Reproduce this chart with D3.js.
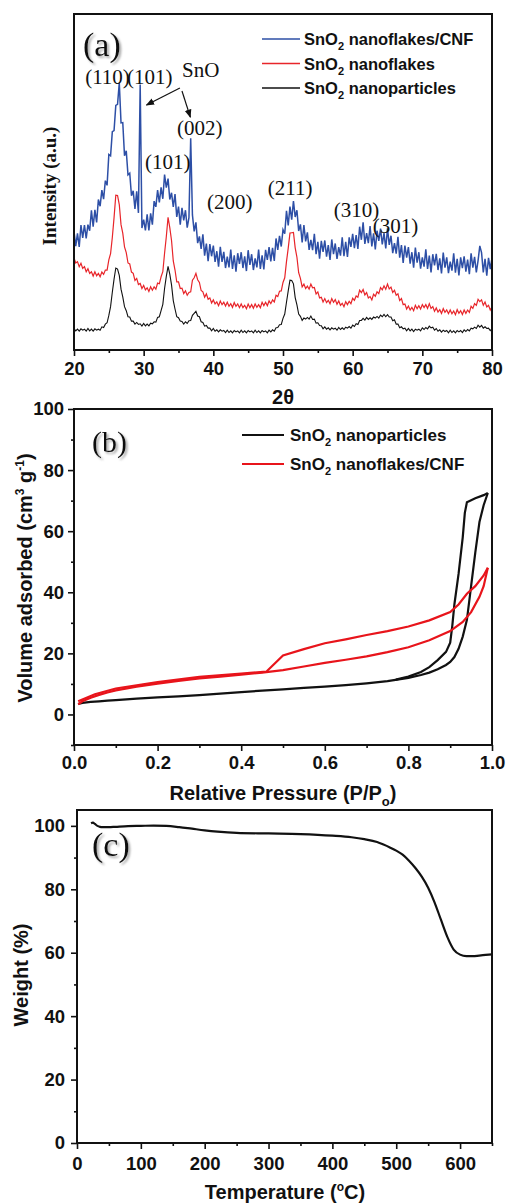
<!DOCTYPE html>
<html>
<head>
<meta charset="utf-8">
<script src="https://cdn.jsdelivr.net/npm/d3@7"></script>
<style>
  body { margin: 0; background: #fff; }
  text { font-family: "Liberation Sans", Arial, sans-serif; fill: #111; }
  .tick line { stroke: #111; stroke-width: 1.6; }
  .serif { font-family: "Liberation Serif", "Times New Roman", serif; }
</style>
</head>
<body>
<div id="chart"></div>
<script>
// ---------- (a) XRD, sampled every 0.25 deg from 20 to 80 ----------
var twoTheta = d3.range(241).map(i => 20 + i * 0.25);

var xrdCNF = [
  35.3,30.9,34.7,30.7,37.2,33.4,37.2,33.2,37.3,35.5,41.6,36.7,41.7,38.0,44.8,42.8,
  47.6,44.9,50.4,49.0,58.2,57.8,65.0,65.3,72.8,73.1,79.5,67.6,67.7,57.8,59.3,52.1,
  52.6,45.9,47.4,42.0,47.2,40.8,79.0,36.3,38.8,35.6,40.4,35.6,40.7,37.3,44.3,42.6,
  47.6,43.9,48.4,45.0,52.2,48.3,51.0,44.8,46.8,42.6,46.4,39.6,42.7,37.3,42.3,38.6,
  41.6,36.4,39.4,63.0,40.2,35.3,38.0,31.8,33.8,30.1,34.4,28.1,31.7,26.4,31.5,27.9,
  31.1,26.2,29.4,24.8,30.7,26.2,29.2,24.4,27.8,24.6,29.9,24.1,28.2,23.3,28.8,25.6,
  29.1,24.4,27.9,23.5,29.7,25.3,28.5,23.8,27.3,24.6,29.9,24.1,28.2,24.0,29.8,26.8,
  30.6,26.4,30.4,26.5,33.2,29.8,34.0,30.8,35.8,34.6,41.4,37.1,42.7,38.8,44.3,39.6,
  41.6,35.4,37.4,32.0,37.2,32.3,35.0,29.8,32.8,29.7,34.6,28.5,32.2,27.2,32.5,29.2,
  32.6,27.8,31.2,26.8,32.9,28.5,31.7,27.1,30.6,28.1,33.5,27.9,32.2,27.7,33.5,30.7,
  34.6,30.3,34.2,30.1,36.7,32.8,38.0,31.6,34.8,31.8,36.9,30.8,34.7,29.9,35.5,32.5,
  36.1,31.4,34.8,30.2,36.2,31.3,34.0,28.8,31.8,28.7,33.7,27.5,31.2,25.9,31.1,27.5,
  30.6,25.7,29.1,24.5,30.5,26.0,29.1,24.2,27.6,24.8,30.0,24.1,28.1,23.1,28.5,25.2,
  28.6,23.8,27.3,22.8,29.0,24.5,27.6,22.9,26.3,23.6,28.8,23.0,27.1,22.2,27.6,24.4,
  27.9,23.3,26.9,22.6,28.8,24.5,27.7,23.1,26.6,31.0,29.0,23.1,27.1,22.1,27.4,24.1,
  27.4
];

var xrdFlakes = [
  27.4,25.9,26.3,24.8,25.8,24.3,24.8,23.3,24.2,22.8,23.3,22.0,23.3,22.1,22.8,21.8,
  23.2,22.5,23.8,23.8,26.8,28.7,33.5,39.4,46.1,46.0,43.3,37.3,34.8,30.7,29.0,25.9,
  25.6,23.2,22.8,20.7,21.3,19.5,19.8,18.3,19.2,17.9,18.5,17.4,18.8,17.8,18.8,18.1,
  19.9,19.7,21.8,23.3,28.8,33.7,39.5,36.4,32.6,26.5,23.8,20.3,20.3,18.3,18.4,16.8,
  17.6,16.3,17.1,17.3,20.8,21.5,22.8,20.9,20.1,17.7,17.3,15.7,16.7,15.1,15.5,14.0,
  14.9,13.7,14.3,13.2,14.6,13.5,14.2,13.1,14.2,13.0,13.8,12.7,14.1,13.0,13.7,12.6,
  13.7,12.6,13.3,12.3,13.7,12.6,13.5,12.4,13.7,12.7,13.5,12.6,14.2,13.2,14.2,13.2,
  14.6,13.8,14.9,14.3,16.3,15.9,17.5,17.6,20.1,21.5,26.3,30.3,34.8,34.9,35.0,30.4,
  27.6,23.0,21.3,18.8,19.6,18.3,19.0,18.1,19.6,18.5,18.6,16.7,17.3,15.5,15.7,14.3,
  15.3,14.1,14.8,13.8,15.3,14.2,15.0,13.6,14.6,13.3,13.9,12.9,14.4,13.5,14.5,13.8,
  15.4,14.8,16.1,15.7,17.8,17.1,18.0,16.4,17.1,15.5,15.9,14.9,16.6,16.0,17.3,16.8,
  18.6,17.9,19.1,18.1,19.6,18.2,18.7,17.1,17.8,16.3,16.7,14.7,15.3,13.5,13.7,12.2,
  13.1,11.9,12.7,11.7,13.3,12.3,13.2,12.2,13.5,12.6,13.5,12.4,13.8,12.4,12.9,11.5,
  12.5,11.3,12.0,10.9,12.3,11.2,11.9,10.8,11.9,10.8,11.6,10.5,12.0,10.9,11.7,10.6,
  11.9,10.9,11.9,11.2,13.0,12.4,13.8,13.3,15.1,14.4,14.9,13.3,14.3,12.8,13.3,11.9,
  12.9
];

var xrdParticles = [
  6.4,5.7,6.2,5.6,6.3,5.9,6.2,5.6,6.4,5.7,6.2,5.6,6.3,5.9,6.2,5.9,
  6.9,6.7,7.7,8.1,10.3,12.9,17.2,21.1,24.4,24.1,22.2,18.1,15.8,12.9,11.7,9.9,
  9.8,8.6,8.6,7.7,8.2,7.6,7.8,7.1,7.9,7.2,7.7,7.2,8.0,7.8,8.4,8.3,
  9.7,9.9,11.7,13.6,18.3,21.9,24.9,22.6,19.4,14.7,12.2,9.9,9.6,8.6,8.5,7.7,
  8.4,7.9,8.7,8.8,10.3,10.9,11.5,10.1,9.9,8.4,8.2,7.1,7.3,6.5,6.5,5.7,
  6.4,5.6,6.0,5.4,6.0,5.6,5.8,5.2,5.9,5.2,5.7,5.1,5.8,5.4,5.7,5.1,
  5.9,5.2,5.7,5.1,5.8,5.4,5.7,5.1,5.9,5.2,5.7,5.1,5.8,5.4,5.7,5.1,
  5.9,5.4,6.0,5.6,6.6,6.7,7.5,7.6,9.4,10.7,14.2,17.6,20.8,20.7,19.7,15.6,
  13.4,10.7,10.0,8.8,9.5,9.2,9.7,9.2,10.1,9.1,9.2,8.0,8.1,7.3,7.2,6.3,
  6.9,6.2,6.6,6.0,6.6,6.2,6.5,5.9,6.7,6.1,6.6,6.1,6.8,6.5,7.0,6.5,
  7.4,7.0,7.8,7.6,8.8,8.8,9.4,8.9,9.7,9.1,9.6,9.1,9.8,9.5,10.0,9.5,
  10.4,9.9,10.6,9.9,10.5,9.8,9.8,8.7,9.0,7.7,7.7,6.6,6.9,6.3,6.5,5.7,
  6.4,5.7,6.2,5.5,6.2,5.9,6.2,5.7,6.6,6.1,6.7,6.3,7.1,6.6,6.8,5.9,
  6.4,5.6,6.0,5.3,5.9,5.5,5.8,5.1,5.9,5.2,5.7,5.1,5.8,5.4,5.8,5.2,
  6.0,5.5,6.1,5.7,6.5,6.3,6.8,6.4,7.4,6.8,7.3,6.5,6.9,6.4,6.5,5.8,
  6.4
];

var xrdMajor = [20, 30, 40, 50, 60, 70, 80];
var xrdMinor = [25, 35, 45, 55, 65, 75];

// peak labels, anchored in data units (2theta, intensity)
var peakLabels = [
  {text: "(110)", t: 21.6, i: 79.2},
  {text: "(101)", t: 27.6, i: 79.2},
  {text: "SnO",   t: 35.5, i: 81.3},
  {text: "(002)", t: 34.8, i: 64.0},
  {text: "(101)", t: 30.2, i: 53.9},
  {text: "(200)", t: 39.1, i: 42.0},
  {text: "(211)", t: 47.8, i: 46.1},
  {text: "(310)", t: 57.3, i: 39.6},
  {text: "(301)", t: 62.9, i: 34.8}
];
var snoArrows = [
  {t1: 35.2, i1: 78.0, t2: 30.4, i2: 72.9},
  {t1: 35.5, i1: 77.1, t2: 36.7, i2: 69.3}
];

// ---------- (b) N2 isotherms ----------
var npAdsP = [0.01,0.02,0.04,0.06,0.08,0.1,0.15,0.2,0.25,0.3,0.35,0.4,0.45,0.5,0.55,0.6,0.65,0.7,0.75,0.8,0.83,0.85,0.87,0.89,0.9,0.91,0.92,0.93,0.94,0.95,0.96,0.97,0.98,0.99];
var npAdsV = [3.4,3.8,4.1,4.3,4.5,4.7,5.2,5.6,5.9,6.3,6.8,7.3,7.8,8.2,8.7,9.1,9.6,10.2,10.9,12.0,12.9,13.7,14.8,16.2,17.2,18.8,21.5,25.5,31,42,53,63,68.5,72.5];
var npDesP = [0.99,0.98,0.96,0.94,0.935,0.93,0.92,0.91,0.905,0.9,0.89,0.87,0.85,0.83,0.8,0.77];
var npDesV = [72.5,71.8,70.8,69.5,66,58,46,36,29,23.5,20.5,17.8,15.5,13.9,12.4,11.4];

var cnfAdsP = [0.01,0.02,0.04,0.06,0.08,0.1,0.15,0.2,0.25,0.3,0.35,0.4,0.45,0.5,0.55,0.6,0.65,0.7,0.75,0.8,0.85,0.9,0.93,0.95,0.97,0.98,0.99];
var cnfAdsV = [3.3,4.3,5.5,6.4,7.2,7.9,9.1,10.1,11.0,11.8,12.4,13.0,13.7,14.5,15.7,16.9,17.9,19.0,20.4,22.0,24.3,27.3,30.3,33.5,38.5,42,48];
var cnfDesP = [0.99,0.98,0.96,0.94,0.92,0.9,0.85,0.8,0.75,0.7,0.65,0.6,0.55,0.5,0.46,0.4,0.3,0.2,0.1,0.05,0.02,0.01];
var cnfDesV = [48,45.5,42,39.5,36,33.5,30.8,28.8,27.3,26,24.6,23.3,21.4,19.3,14.0,13.4,12.3,10.6,8.5,6.6,4.9,4.3];

var betXMajor = [0, 0.2, 0.4, 0.6, 0.8, 1.0];
var betXMinor = [0.1, 0.3, 0.5, 0.7, 0.9];
var betYMajor = [0, 20, 40, 60, 80, 100];
var betYMinor = [-10, 10, 30, 50, 70, 90];

// ---------- (c) TGA ----------
var tgaT = [22,25,28,32,36,40,50,60,80,100,120,140,160,180,200,220,250,300,350,400,430,450,470,480,490,500,510,520,530,540,550,560,570,580,590,600,610,620,630,640,650];
var tgaW = [100.8,101.0,100.6,100.0,99.7,99.6,99.6,99.7,99.9,100.0,100.1,100.0,99.6,99.1,98.6,98.2,97.8,97.6,97.4,96.9,96.4,95.8,94.9,94.1,93.2,92.2,90.9,89.0,86.7,84.0,80.5,75.9,70.4,65.0,61.0,59.4,58.9,58.9,59.1,59.3,59.5];

var tgaXMajor = [0, 100, 200, 300, 400, 500, 600];
var tgaXMinor = [50, 150, 250, 350, 450, 550, 650];
var tgaYMajor = [0, 20, 40, 60, 80, 100];
var tgaYMinor = [10, 30, 50, 70, 90];

var svg = d3.select("#chart")
  .append("svg")
  .attr("width", 506)
  .attr("height", 1204);

svg.append("rect").attr("width", 506).attr("height", 1204).attr("fill", "#fff");

var defs = svg.append("defs");
defs.append("filter").attr("id", "shadow")
  .append("feDropShadow")
  .attr("dx", 2).attr("dy", 2).attr("stdDeviation", 1.2)
  .attr("flood-color", "#888").attr("flood-opacity", 0.7);
defs.append("marker")
  .attr("id", "arrow")
  .attr("viewBox", "0 0 10 10")
  .attr("refX", 9).attr("refY", 5)
  .attr("markerWidth", 7).attr("markerHeight", 7)
  .attr("orient", "auto")
  .append("path")
  .attr("d", "M0,1 L10,5 L0,9 Z")
  .attr("fill", "#111");

// bold tick labels, like the original figure
function styleTicks(s) {
  s.select(".domain").remove();
  s.selectAll("text")
    .attr("font-family", "'Liberation Sans', Arial, sans-serif")
    .style("font-size", "18.5px")
    .style("font-weight", "bold")
    .style("fill", "#111");
}

// draw minor + major ticks on a side, then a closed frame
function axes(g, x, y, w, h, o) {
  g.append("g").attr("transform", `translate(0,${h})`)
    .call(d3.axisBottom(x).tickValues(o.xMinor).tickSize(3).tickFormat(""))
    .call(styleTicks);
  g.append("g").attr("transform", `translate(0,${h})`)
    .call(d3.axisBottom(x).tickValues(o.xMajor).tickSize(6).tickPadding(o.xPad).tickFormat(o.xFmt))
    .call(styleTicks);
  if (o.yMajor) {
    g.append("g")
      .call(d3.axisLeft(y).tickValues(o.yMinor).tickSize(3).tickFormat(""))
      .call(styleTicks);
    g.append("g")
      .call(d3.axisLeft(y).tickValues(o.yMajor).tickSize(6).tickPadding(o.yPad).tickFormat(d3.format("d")))
      .call(styleTicks);
  }
  g.append("rect")
    .attr("width", w).attr("height", h)
    .attr("fill", "none").attr("stroke", "#111").attr("stroke-width", 2);
}

function legendRow(g, x, y, color, lw, size, sub, rest) {
  g.append("line")
    .attr("x1", x).attr("x2", x + 38 + (size > 16.5 ? 4 : 0))
    .attr("y1", y - 6).attr("y2", y - 6)
    .attr("stroke", color).attr("stroke-width", lw);
  var t = g.append("text")
    .attr("x", x + 42 + (size > 16.5 ? 6 : 0)).attr("y", y)
    .attr("font-size", size).attr("font-weight", "bold");
  t.append("tspan").text("SnO");
  t.append("tspan").attr("font-size", 11).attr("dy", 5).text(sub);
  t.append("tspan").attr("dy", -5).text(rest);
}

// ===== panel (a) =====
var wA = 418, hA = 336;
var gA = svg.append("g").attr("transform", "translate(74,14)");
var xA = d3.scaleLinear().domain([20, 80]).range([0, wA]);
var yA = d3.scaleLinear().domain([0, 100]).range([hA, 0]);

var lineA = (vals) => d3.line().x((d, i) => xA(twoTheta[i])).y(d => yA(d))(vals);

gA.append("path").attr("d", lineA(xrdParticles)).attr("fill", "none").attr("stroke", "#111").attr("stroke-width", 1.1);
gA.append("path").attr("d", lineA(xrdFlakes)).attr("fill", "none").attr("stroke", "#e8252a").attr("stroke-width", 1.2);
gA.append("path").attr("d", lineA(xrdCNF)).attr("fill", "none").attr("stroke", "#2d4fa6").attr("stroke-width", 1.5);

axes(gA, xA, yA, wA, hA, {xMajor: xrdMajor, xMinor: xrdMinor, xPad: 6, xFmt: d3.format("d")});

peakLabels.forEach(function(p) {
  gA.append("text").attr("class", "serif")
    .attr("x", xA(p.t)).attr("y", yA(p.i))
    .attr("font-size", 21)
    .text(p.text);
});
snoArrows.forEach(function(a) {
  gA.append("line")
    .attr("x1", xA(a.t1)).attr("y1", yA(a.i1))
    .attr("x2", xA(a.t2)).attr("y2", yA(a.i2))
    .attr("stroke", "#111").attr("stroke-width", 1.2)
    .attr("marker-end", "url(#arrow)");
});

gA.append("text").attr("class", "serif")
  .attr("x", 9).attr("y", 42)
  .attr("font-size", 34).attr("filter", "url(#shadow)")
  .text("(a)");

legendRow(svg, 262, 45, "#2d4fa6", 1.5, 16.5, "2", " nanoflakes/CNF");
legendRow(svg, 262, 69.5, "#e8252a", 1.5, 16.5, "2", " nanoflakes");
legendRow(svg, 262, 94, "#111", 1.5, 16.5, "2", " nanoparticles");

svg.append("text").attr("class", "serif")
  .attr("transform", "translate(56,186) rotate(-90)")
  .attr("text-anchor", "middle")
  .attr("font-size", 19).attr("font-weight", "bold")
  .text("Intensity (a.u.)");

svg.append("text")
  .attr("x", 283).attr("y", 404)
  .attr("text-anchor", "middle")
  .attr("font-size", 20).attr("font-weight", "bold")
  .text("2θ");

// ===== panel (b) =====
var wB = 418, hB = 336;
var gB = svg.append("g").attr("transform", "translate(74,409)");
var xB = d3.scaleLinear().domain([0, 1]).range([0, wB]);
var yB = d3.scaleLinear().domain([-10, 100]).range([hB, 0]);

var lineB = (ps, vs) => d3.line().x((d, i) => xB(ps[i])).y((d, i) => yB(vs[i]))(ps);

gB.append("path").attr("d", lineB(npAdsP, npAdsV)).attr("fill", "none").attr("stroke", "#111").attr("stroke-width", 2.2);
gB.append("path").attr("d", lineB(npDesP, npDesV)).attr("fill", "none").attr("stroke", "#111").attr("stroke-width", 2.2);
gB.append("path").attr("d", lineB(cnfAdsP, cnfAdsV)).attr("fill", "none").attr("stroke", "#e8141b").attr("stroke-width", 2.2);
gB.append("path").attr("d", lineB(cnfDesP, cnfDesV)).attr("fill", "none").attr("stroke", "#e8141b").attr("stroke-width", 2.2);

axes(gB, xB, yB, wB, hB, {
  xMajor: betXMajor, xMinor: betXMinor, xPad: 5, xFmt: d3.format(".1f"),
  yMajor: betYMajor, yMinor: betYMinor, yPad: 4
});

gB.append("text").attr("class", "serif")
  .attr("x", 18).attr("y", 43)
  .attr("font-size", 30).attr("filter", "url(#shadow)")
  .text("(b)");

legendRow(svg, 242, 441, "#111", 2.2, 17, "2", " nanoparticles");
legendRow(svg, 242, 470, "#e8141b", 2.2, 17, "2", " nanoflakes/CNF");

var yTitleB = svg.append("text")
  .attr("transform", "translate(32,578) rotate(-90)")
  .attr("text-anchor", "middle")
  .attr("font-size", 20).attr("font-weight", "bold");
yTitleB.append("tspan").text("Volume adsorbed (cm");
yTitleB.append("tspan").attr("font-size", 12).attr("dy", -8).text("3");
yTitleB.append("tspan").attr("dy", 8).text(" g");
yTitleB.append("tspan").attr("font-size", 12).attr("dy", -8).text("-1");
yTitleB.append("tspan").attr("dy", 8).text(")");

var xTitleB = svg.append("text")
  .attr("x", 283).attr("y", 800)
  .attr("text-anchor", "middle")
  .attr("font-size", 20).attr("font-weight", "bold");
xTitleB.append("tspan").text("Relative Pressure (P/P");
xTitleB.append("tspan").attr("font-size", 13).attr("dy", 6).text("o");
xTitleB.append("tspan").attr("dy", -6).text(")");

// ===== panel (c) =====
var wC = 415, hC = 333;
var gC = svg.append("g").attr("transform", "translate(77,810)");
var xC = d3.scaleLinear().domain([0, 650]).range([0, wC]);
var yC = d3.scaleLinear().domain([0, 105]).range([hC, 0]);

gC.append("path")
  .attr("d", d3.line().x((d, i) => xC(tgaT[i])).y((d, i) => yC(tgaW[i])).curve(d3.curveMonotoneX)(tgaT))
  .attr("fill", "none").attr("stroke", "#111").attr("stroke-width", 2.2);

axes(gC, xC, yC, wC, hC, {
  xMajor: tgaXMajor, xMinor: tgaXMinor, xPad: 8, xFmt: d3.format("d"),
  yMajor: tgaYMajor, yMinor: tgaYMinor, yPad: 6
});

gC.append("text").attr("class", "serif")
  .attr("x", 15).attr("y", 46)
  .attr("font-size", 34).attr("filter", "url(#shadow)")
  .text("(c)");

svg.append("text")
  .attr("transform", "translate(28,975) rotate(-90)")
  .attr("text-anchor", "middle")
  .attr("font-size", 20).attr("font-weight", "bold")
  .text("Weight (%)");

var xTitleC = svg.append("text")
  .attr("x", 285).attr("y", 1199)
  .attr("text-anchor", "middle")
  .attr("font-size", 20).attr("font-weight", "bold");
xTitleC.append("tspan").text("Temperature (");
xTitleC.append("tspan").attr("font-size", 12).attr("dy", -8).text("o");
xTitleC.append("tspan").attr("dy", 8).text("C)");
</script>
</body>
</html>
